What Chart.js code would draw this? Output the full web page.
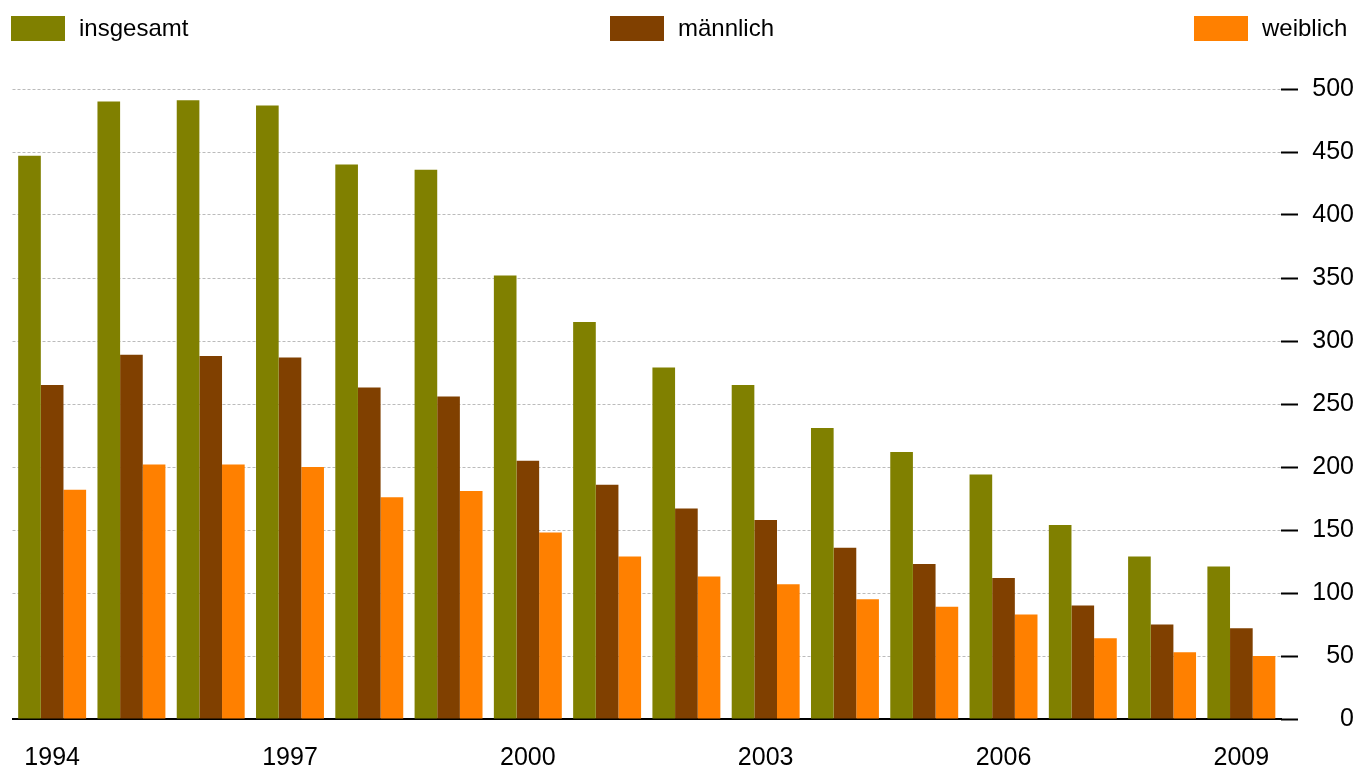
<!DOCTYPE html>
<html>
<head>
<meta charset="utf-8">
<script src="https://cdn.jsdelivr.net/npm/chart.js@4/dist/chart.umd.min.js"></script>
<style>
  html, body { margin: 0; padding: 0; background: #fff; }
  #wrap { position: relative; width: 1360px; height: 772px; }
  #legend { position: absolute; top: 0; left: 0; width: 1360px; height: 56px; font-family: "Liberation Sans", Arial, sans-serif; font-size: 24px; color: #000; }
  .item { position: absolute; top: 15px; height: 26px; display: flex; align-items: center; }
  .box { width: 54px; height: 25px; margin-right: 14px; }
</style>
</head>
<body>
<div id="wrap">
  <canvas id="chart" width="1360" height="772"></canvas>
  <div id="legend"></div>
</div>
<script>
// Jahre
const years = ['1994', '1995', '1996', '1997', '1998', '1999', '2000', '2001',
               '2002', '2003', '2004', '2005', '2006', '2007', '2008', '2009'];

const insgesamt = [447, 490, 491, 487, 440, 436, 352, 315, 279, 265, 231, 212, 194, 154, 129, 121];
const maennlich = [265, 289, 288, 287, 263, 256, 205, 186, 167, 158, 136, 123, 112, 90, 75, 72];
const weiblich  = [182, 202, 202, 200, 176, 181, 148, 129, 113, 107, 95, 89, 83, 64, 53, 50];

const seriesNames = ['insgesamt', 'männlich', 'weiblich'];
const seriesColors = ['#808000', '#804000', '#ff8000'];
const legendLeft = [11, 610, 1194];

const FONT = '"Liberation Sans", Arial, sans-serif';

// legend (spread over the full width like the original)
const legend = document.getElementById('legend');
seriesNames.forEach((name, i) => {
  const el = document.createElement('div');
  el.className = 'item';
  el.style.left = legendLeft[i] + 'px';
  el.innerHTML = '<div class="box" style="background:' + seriesColors[i] + '"></div><span>' + name + '</span>';
  legend.appendChild(el);
});

const ctx = document.getElementById('chart').getContext('2d');
new Chart(ctx, {
  type: 'bar',
  data: {
    labels: years,
    datasets: [insgesamt, maennlich, weiblich].map((d, i) => ({
      label: seriesNames[i],
      data: d,
      backgroundColor: seriesColors[i],
      borderWidth: 0,
      categoryPercentage: 0.857,
      barPercentage: 1.0
    }))
  },
  options: {
    responsive: false,
    animation: false,
    layout: { padding: { left: 11, right: 6, top: 89, bottom: 0 } },
    plugins: { legend: { display: false }, tooltip: { enabled: false } },
    scales: {
      x: {
        grid: { display: false, drawTicks: false },
        border: { display: true, color: '#000', width: 2 },
        ticks: {
          autoSkip: false, maxRotation: 0, padding: 24,
          color: '#000', font: { family: FONT, size: 25 },
          callback: (v, i) => (i % 3 === 0 ? years[i] : '')
        },
        afterFit: (scale) => { scale.height = 772 - 719; }
      },
      y: {
        position: 'right',
        min: 0, max: 500,
        grid: { color: '#bbbbbb', lineWidth: 1, tickColor: '#000', tickWidth: 2, tickLength: 17, tickBorderDash: [] },
        border: { display: false, dash: [3, 2] },
        ticks: {
          stepSize: 50, crossAlign: 'far', padding: 8,
          color: '#000', font: { family: FONT, size: 25 }
        },
        afterFit: (scale) => { scale.width = 1360 - 1281 - 6; }
      }
    }
  }
});
</script>
</body>
</html>
